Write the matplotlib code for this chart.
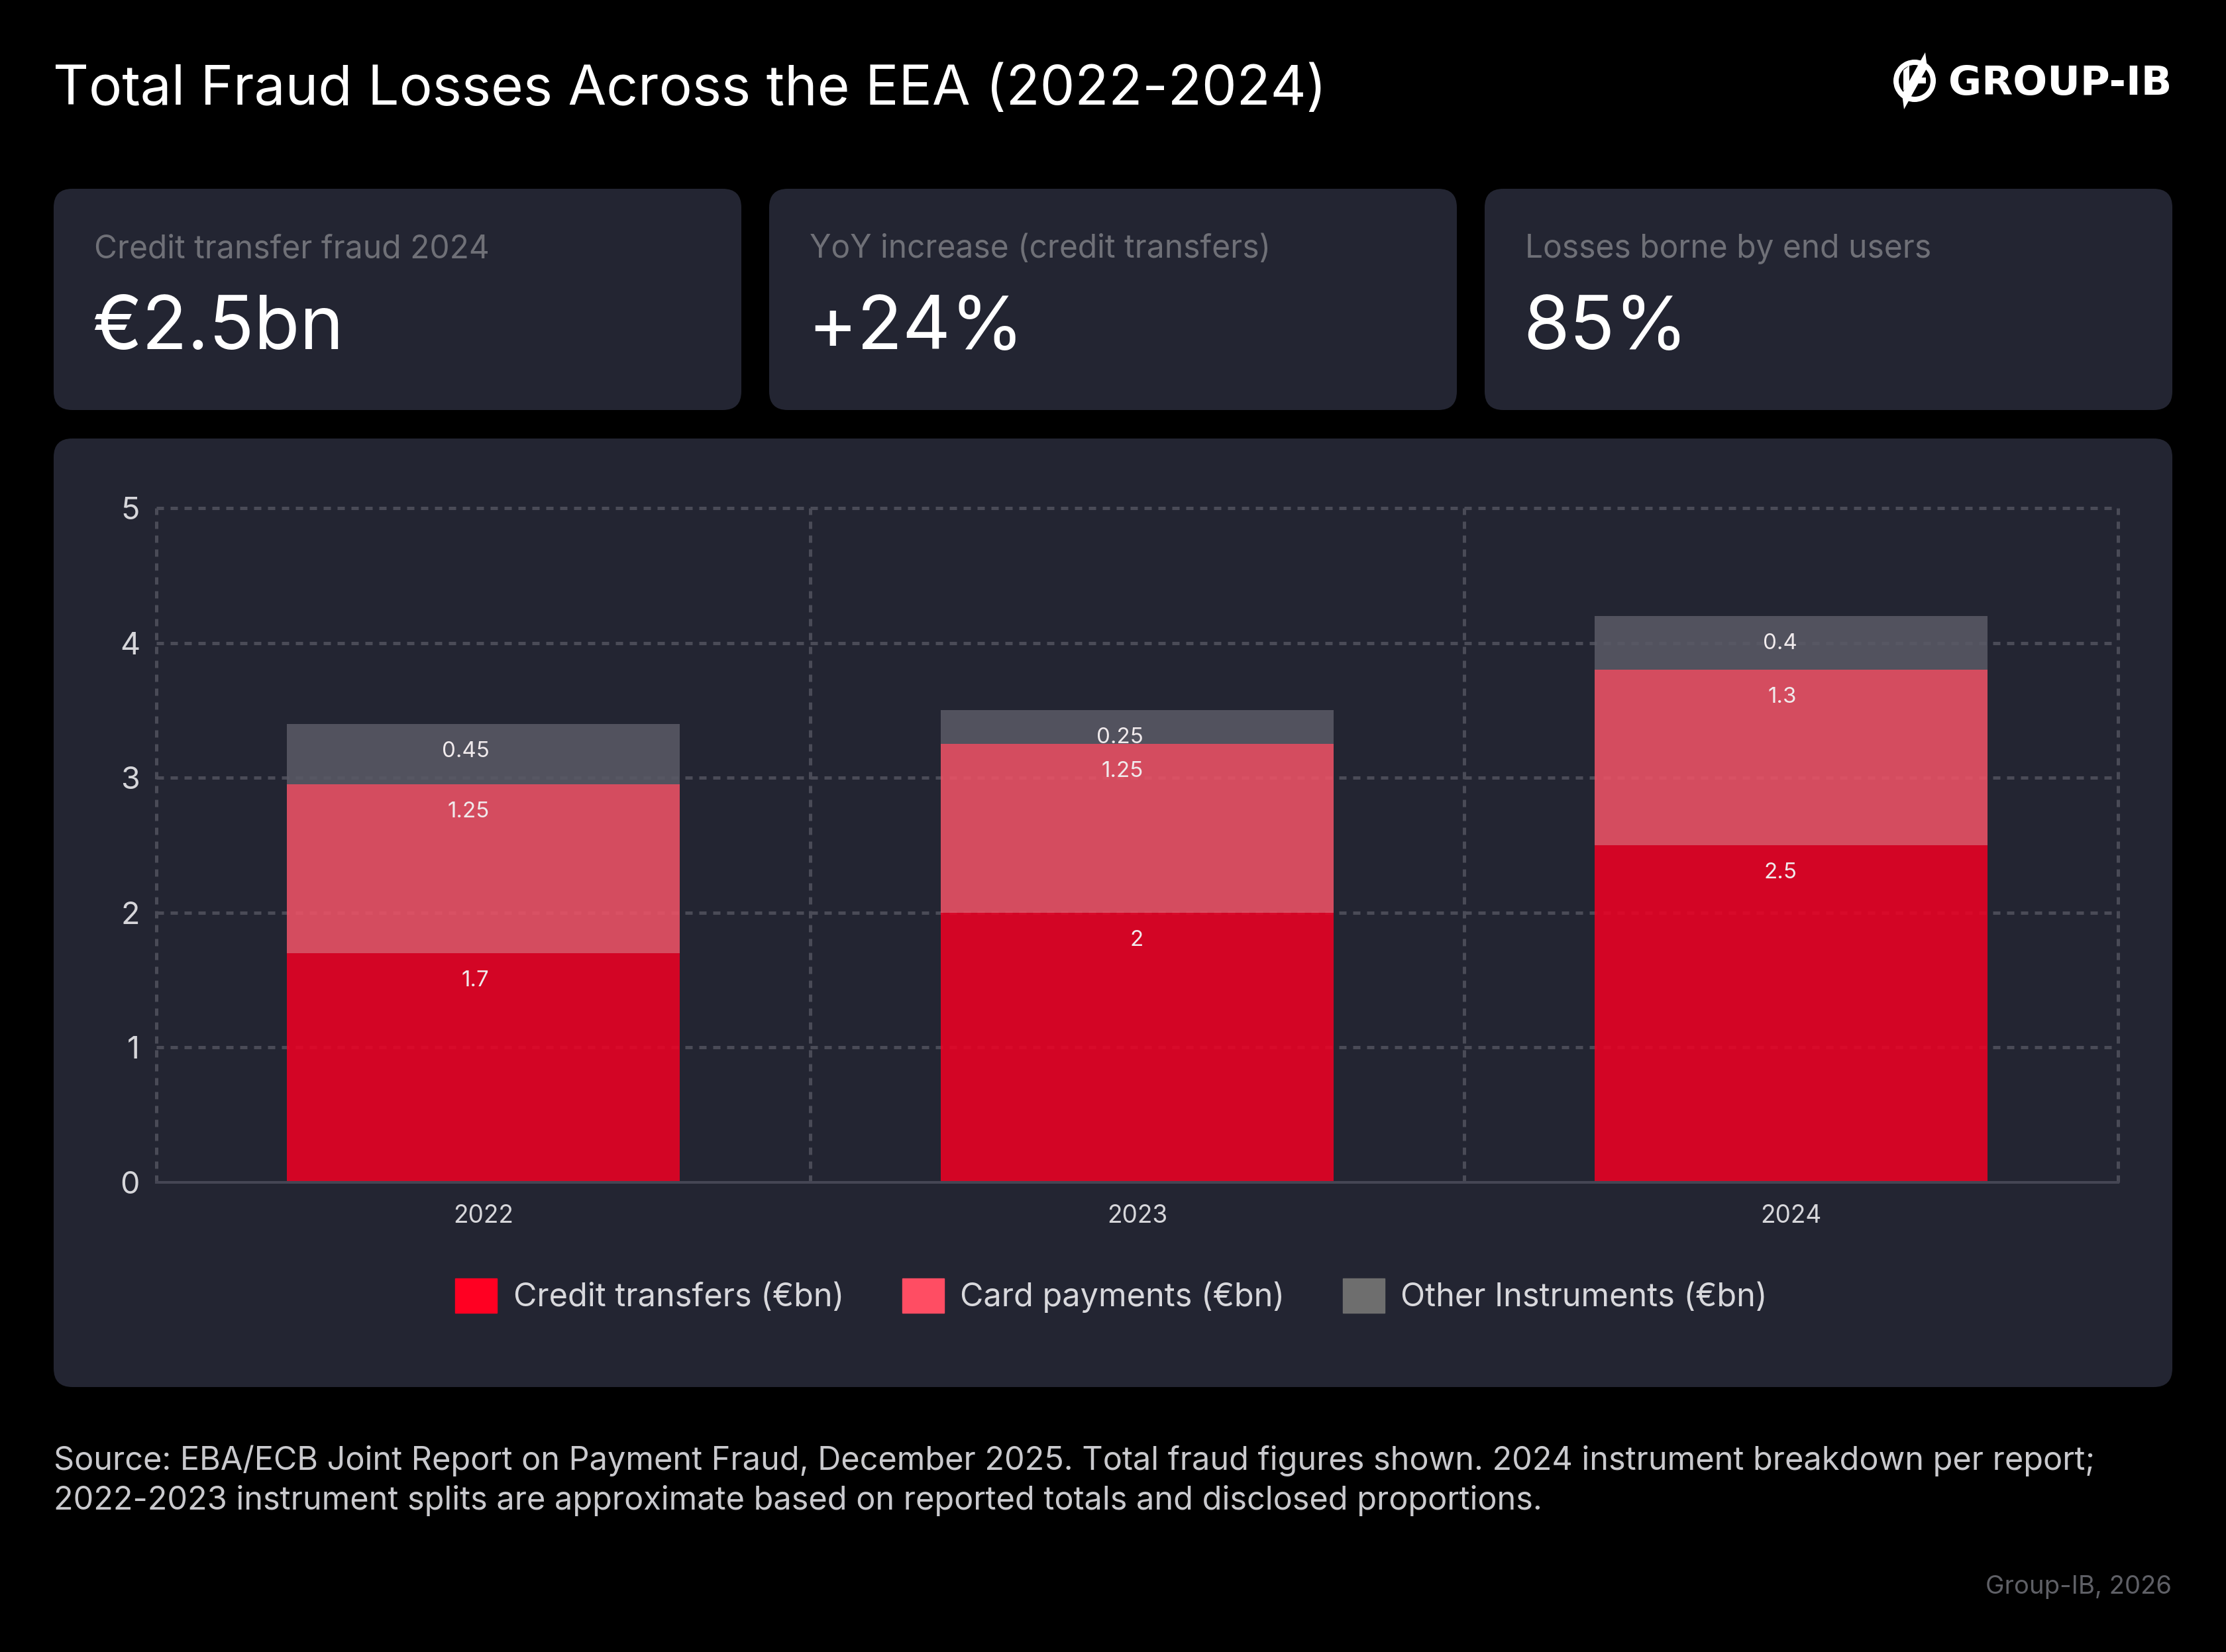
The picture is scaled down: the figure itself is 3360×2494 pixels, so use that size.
import matplotlib
matplotlib.use('Agg')
import matplotlib.pyplot as plt
from matplotlib.patches import FancyBboxPatch, Wedge, Polygon, Patch
import numpy as np

# ---------------- data ----------------
years = ['2022', '2023', '2024']
credit = [1.7, 2.0, 2.5]
card = [1.25, 1.25, 1.3]
other = [0.45, 0.25, 0.4]
credit_labels = ['1.7', '2', '2.5']
card_labels = ['1.25', '1.25', '1.3']
other_labels = ['0.45', '0.25', '0.4']
series_names = ['Credit transfers (€bn)', 'Card payments (€bn)', 'Other Instruments (€bn)']
yticks = [0, 1, 2, 3, 4, 5]
kpi_labels = ['Credit transfer fraud 2024', 'YoY increase (credit transfers)', 'Losses borne by end users']
kpi_values = ['€2.5bn', '+24%', '85%']
title = 'Total Fraud Losses Across the EEA (2022-2024)'
footer1 = ('Source: EBA/ECB Joint Report on Payment Fraud, December 2025. Total fraud figures shown. '
           '2024 instrument breakdown per report;')
footer2 = '2022-2023 instrument splits are approximate based on reported totals and disclosed proportions.'
credit_line = 'Group-IB, 2026'

# ---------------- style ----------------
plt.rcParams['font.family'] = ['Inter', 'DejaVu Sans']
W, H = 3360, 2494
DPI = 100
PANEL = '#232532'
BAR_C = ['#F10023', '#F25367', '#5A5A66']
LEG_C = ['#FF0022', '#FF4D63', '#6E6E6E']
GRID = '#4a4b57'
TICK_C = '#d6d6da'

fig = plt.figure(figsize=(W / DPI, H / DPI), dpi=DPI, facecolor='black')

bg = fig.add_axes([0, 0, 1, 1])
bg.set_xlim(0, W)
bg.set_ylim(H, 0)
bg.axis('off')

# title
bg.text(80, 158, title, fontsize=60.3, color='white', va='baseline', ha='left')

# logo
bg.add_patch(Wedge((2890, 122), 32, 0, 360, width=8, facecolor='white', edgecolor='none'))
bg.add_patch(Polygon([(2906, 79), (2909, 102), (2874, 165), (2871, 142)], closed=True,
                     facecolor='white', edgecolor='none'))
bg.add_patch(Polygon([(2873, 106), (2882, 99), (2882, 128), (2873, 137)], closed=True,
                     facecolor='white', edgecolor='none'))
bg.add_patch(Polygon([(2893, 117), (2907, 117), (2907, 126), (2889, 126)], closed=True,
                     facecolor='white', edgecolor='none'))
bg.text(3278, 143, 'GROUP-IB', fontsize=44, fontweight='bold', color='white',
        ha='right', va='baseline', family=['DejaVu Sans'])

# KPI cards
card_x = [81, 1161, 2241]
for cx, lab, val in zip(card_x, kpi_labels, kpi_values):
    bg.add_patch(FancyBboxPatch((cx, 285), 1038, 334,
                                boxstyle='round,pad=0,rounding_size=28',
                                facecolor=PANEL, edgecolor='none'))
    bg.text(cx + 61, 389, lab, fontsize=34.5, color='#6f7077', va='baseline', ha='left')
    bg.text(cx + 58, 527, val, fontsize=81, color='white', va='baseline', ha='left')

# chart panel
bg.add_patch(FancyBboxPatch((81, 662), 3198, 1432,
                            boxstyle='round,pad=0,rounding_size=28',
                            facecolor=PANEL, edgecolor='none'))

# footer
bg.text(81, 2219, footer1, fontsize=35, color='#c9c9cd', va='baseline', ha='left')
bg.text(81, 2279, footer2, fontsize=35, color='#c9c9cd', va='baseline', ha='left')
bg.text(3278, 2406, credit_line, fontsize=27.5, color='#5f6066', va='baseline', ha='right')

# ---------------- chart ----------------
ax = fig.add_axes([236 / W, 1 - 1785 / H, (3197 - 236) / W, (1785 - 767) / H])
ax.patch.set_alpha(0)
x = np.arange(len(years))
credit_a = np.array(credit)
card_a = np.array(card)
other_a = np.array(other)

# grid
ax.hlines(yticks[1:], -0.5, 2.5, colors=GRID, linestyles=(0, (2.2, 2.0)), linewidth=3.6,
          zorder=1, clip_on=False)
ax.vlines([-0.5, 0.5, 1.5, 2.5], 0, 5, colors=GRID, linestyles=(0, (2.2, 2.0)), linewidth=3.6,
          zorder=1, clip_on=False)

bw = 0.6
ax.bar(x, credit_a, bw, color=BAR_C[0], alpha=0.86, zorder=2, linewidth=0)
ax.bar(x, card_a, bw, bottom=credit_a, color=BAR_C[1], alpha=0.86, zorder=2, linewidth=0)
ax.bar(x, other_a, bw, bottom=credit_a + card_a, color=BAR_C[2], alpha=0.86, zorder=2, linewidth=0)

tops = [credit_a, credit_a + card_a, credit_a + card_a + other_a]
labels = [credit_labels, card_labels, other_labels]
for t, labs in zip(tops, labels):
    for xi, ti, lb in zip(x, t, labs):
        ax.annotate(lb, xy=(xi, ti), xytext=(9, -50), textcoords='offset pixels',
                    ha='right', va='baseline', fontsize=23.8, color='#f0eaec', zorder=3)

ax.set_xlim(-0.5, 2.5)
ax.set_ylim(0, 5)
ax.set_yticks(yticks)
ax.set_xticks(x, years)
for s in ['top', 'right', 'left']:
    ax.spines[s].set_visible(False)
ax.spines['bottom'].set_color('#454654')
ax.spines['bottom'].set_linewidth(2.9)
ax.spines['bottom'].set_zorder(4)
ax.tick_params(axis='both', length=0, colors=TICK_C)
ax.tick_params(axis='y', labelsize=33.7, pad=18)
ax.tick_params(axis='x', labelsize=26.7, pad=24)

handles = [Patch(facecolor=c, edgecolor=c) for c in LEG_C]
fig.legend(handles=handles, labels=series_names, loc='center',
           bbox_to_anchor=(1677.5 / W, 1 - 1956 / H), ncol=3, frameon=False,
           fontsize=35, handlelength=1.3, handleheight=1.3, handletextpad=0.5,
           columnspacing=1.8, labelcolor='#d8d8dc')

fig.savefig('out.png', dpi=DPI, facecolor='black')
